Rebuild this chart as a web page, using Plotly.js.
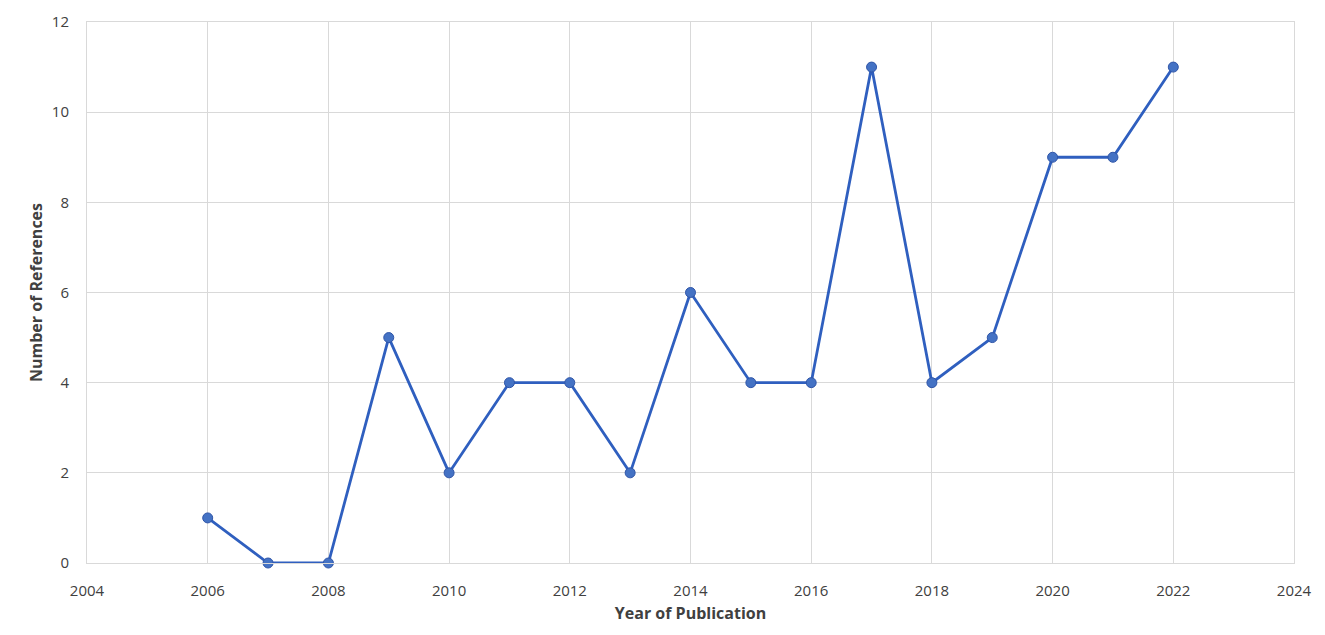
<!DOCTYPE html>
<html>
<head>
<meta charset="utf-8">
<script src="https://cdn.plot.ly/plotly-3.0.1.min.js"></script>
<style>
  html, body { margin: 0; padding: 0; background: #fff; }
  #chart { width: 1325px; height: 635px; }
</style>
</head>
<body>
<div id="chart"></div>
<script>
var years = [2006, 2007, 2008, 2009, 2010, 2011, 2012, 2013, 2014, 2015, 2016, 2017, 2018, 2019, 2020, 2021, 2022];
var refCounts = [1, 0, 0, 5, 2, 4, 4, 2, 6, 4, 4, 11, 4, 5, 9, 9, 11];

var cLine = '#2f5fbf';
var cMarker = '#4472c4';
var cGrid = '#d9d9d9';
var cText = '#404040';

var data = [{
    x: years,
    y: refCounts,
    mode: 'lines+markers',
    type: 'scatter',
    line: {color: cLine, width: 2.8},
    marker: {color: cMarker, size: 10, line: {color: '#2f55a8', width: 1}},
    cliponaxis: false,
    hoverinfo: 'x+y'
}];

var layout = {
    width: 1325,
    height: 635,
    margin: {l: 87, r: 31, t: 22, b: 72},
    paper_bgcolor: '#fff',
    plot_bgcolor: '#fff',
    font: {family: 'Open Sans, sans-serif', color: cText, size: 14},
    showlegend: false,
    xaxis: {
        range: [2004, 2024],
        dtick: 2,
        tick0: 2004,
        showgrid: true,
        gridcolor: cGrid,
        gridwidth: 1,
        zeroline: false,
        showline: true,
        linecolor: cGrid,
        mirror: true,
        ticks: 'outside',
        ticklen: 14,
        tickcolor: 'rgba(0,0,0,0)',
        tickfont: {size: 15, color: cText},
        title: {text: 'Year of Publication', font: {size: 16, color: cText, family: 'Open Sans, sans-serif', weight: 'bold'}, standoff: 8}
    },
    yaxis: {
        range: [0, 12],
        dtick: 2,
        showgrid: true,
        gridcolor: cGrid,
        gridwidth: 1,
        zeroline: false,
        showline: true,
        linecolor: cGrid,
        mirror: true,
        ticks: 'outside',
        ticklen: 14,
        tickcolor: 'rgba(0,0,0,0)',
        tickfont: {size: 15, color: cText},
        title: {text: 'Number of References', font: {size: 16, color: cText, family: 'Open Sans, sans-serif', weight: 'bold'}, standoff: 5}
    }
};

Plotly.newPlot('chart', data, layout, {displayModeBar: false, staticPlot: true});
</script>
</body>
</html>
